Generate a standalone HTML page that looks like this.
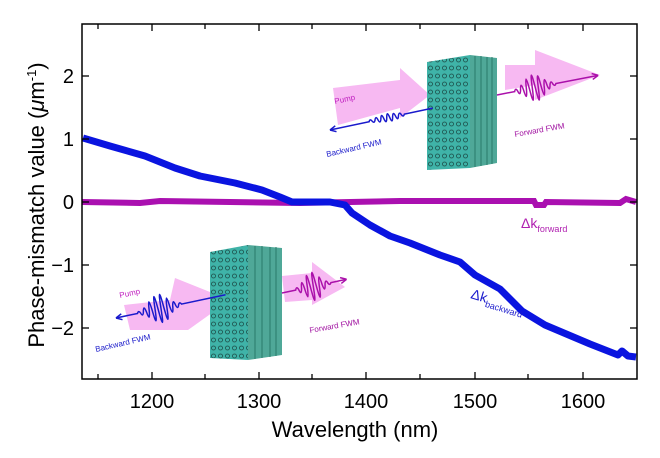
<!DOCTYPE html>
<html><head><style>
body{margin:0;background:#fff;}
svg{display:block;font-family:"Liberation Sans",sans-serif;}
</style></head><body>
<svg width="660" height="458" viewBox="0 0 660 458">
<defs>
<pattern id="grid" width="7" height="8" patternUnits="userSpaceOnUse">
<rect width="7" height="8" fill="#3fb3a8"/><circle cx="3.5" cy="4" r="2" fill="none" stroke="#1d4d48" stroke-width="0.8"/>
</pattern>
</defs>
<g>
<polygon points="333,88 400,80 400,68 430,95 400,118 400,108 338,125" fill="#f7b9f2"/>
<polygon points="505,65 535,65 535,50 600,75 535,100 535,85 505,90" fill="#f7b9f2"/>
<polygon points="427,62 470,55 470,168 427,170" fill="url(#grid)"/>
<polygon points="470,55 497,58 497,163 470,168" fill="#4fa898"/>
<g stroke="#2a7a6a" stroke-width="1"><line x1="475" y1="56" x2="475" y2="167"/><line x1="481" y1="56" x2="481" y2="166"/><line x1="487" y1="57" x2="487" y2="165"/><line x1="492" y1="57" x2="492" y2="164"/></g>
<g transform="translate(330 130) rotate(-12)" fill="none" stroke-width="1.5">
<path d="M0,0 L40,0 q1.5,-3 3,0 q1.5,3 3,0 q1.5,-5 3,0 q1.5,5 3,0 q1.5,-7 3,0 q1.5,7 3,0 q1.5,-8 3,0 q1.5,8 3,0 q1.5,-6 3,0 q1.5,6 3,0 q1.5,-4 3,0 q1.5,3 3,0 L105,0" stroke="#1a1acc"/>
<path d="M0,0 L6,-3 M0,0 L6,3" stroke="#1a1acc"/>
</g>
<g transform="translate(497 95) rotate(-11)" fill="none" stroke-width="1.5" stroke="#aa10aa">
<path d="M0,0 L18,0 q1.5,-4 3,0 q1.5,6 3,0 q1.5,-10 3,0 q1.5,14 3,0 q1.5,-20 3,0 q1.5,24 3,0 q1.5,-26 3,0 q1.5,26 3,0 q1.5,-22 3,0 q1.5,18 3,0 q1.5,-12 3,0 q1.5,8 3,0 q1.5,-5 3,0 q1.5,3 3,0 L103,0"/>
<path d="M103,0 L97,-3 M103,0 L97,3"/>
</g>
<text x="335" y="104" font-size="8" fill="#c020c0" transform="rotate(-12 335 104)">Pump</text>
<text x="327" y="157" font-size="8" fill="#2020cc" transform="rotate(-13 327 157)">Backward FWM</text>
<text x="515" y="137" font-size="8" fill="#a010a0" transform="rotate(-10 515 137)">Forward FWM</text>

<polygon points="124,305 170,300 175,278 230,300 188,330 175,330 130,330" fill="#f7b9f2"/>
<polygon points="282,276 312,273 312,262 345,287 312,305 312,300 285,302" fill="#f7b9f2"/>
<polygon points="210,252 248,245 248,360 210,358" fill="url(#grid)"/>
<polygon points="248,245 282,248 282,355 248,360" fill="#4fa898"/>
<g stroke="#2a7a6a" stroke-width="1"><line x1="255" y1="246" x2="255" y2="359"/><line x1="262" y1="246" x2="262" y2="358"/><line x1="270" y1="247" x2="270" y2="357"/><line x1="276" y1="247" x2="276" y2="356"/></g>
<g transform="translate(116 318) rotate(-12)" fill="none" stroke-width="1.5" stroke="#1a1acc">
<path d="M0,0 L22,0 q1.5,-3 3,0 q1.5,5 3,0 q1.5,-8 3,0 q1.5,12 3,0 q1.5,-18 3,0 q1.5,22 3,0 q1.5,-26 3,0 q1.5,28 3,0 q1.5,-28 3,0 q1.5,24 3,0 q1.5,-18 3,0 q1.5,12 3,0 q1.5,-8 3,0 q1.5,5 3,0 q1.5,-3 3,0 L112,0"/>
<path d="M0,0 L6,-3 M0,0 L6,3"/>
</g>
<g transform="translate(282 293) rotate(-12)" fill="none" stroke-width="1.5" stroke="#aa10aa">
<path d="M0,0 L14,0 q1.5,-4 3,0 q1.5,7 3,0 q1.5,-12 3,0 q1.5,18 3,0 q1.5,-24 3,0 q1.5,28 3,0 q1.5,-28 3,0 q1.5,24 3,0 q1.5,-16 3,0 q1.5,10 3,0 q1.5,-5 3,0 q1.5,3 3,0 L66,0"/>
<path d="M66,0 L60,-3 M66,0 L60,3"/>
</g>
<text x="120" y="298" font-size="8" fill="#c020c0" transform="rotate(-12 120 298)">Pump</text>
<text x="96" y="352" font-size="8" fill="#2020cc" transform="rotate(-13 96 352)">Backward FWM</text>
<text x="310" y="333" font-size="8" fill="#a010a0" transform="rotate(-10 310 333)">Forward FWM</text>
</g>
<path d="M82,202 L140,203 L160,201 L230,202 L300,203 L400,201 L534,201 L536,205 L544,205 L546,202 L620,203 L626,199 L636,202" stroke="#aa10b0" stroke-width="6" fill="none"/>
<path d="M83,138 L110,146 L145,156 L175,168 L200,176 L235,183 L262,190 L280,197 L292,202 L330,202 L345,205 L352,213 L370,225 L390,236 L410,243 L440,255 L460,262 L475,275 L500,289 L522,311 L545,325 L590,344 L618,355 L622,351 L628,356 L636,357" stroke="#0a14e0" stroke-width="7" fill="none" stroke-linejoin="round"/>
<text x="521" y="228" font-size="14" fill="#b020b0">Δk<tspan font-size="9" dy="4">forward</tspan></text>
<text x="470" y="298" font-size="14" fill="#1a1acc" transform="rotate(17 470 298)">Δk<tspan font-size="9" dy="4">backward</tspan></text>
<rect x="82" y="24" width="555" height="355" fill="none" stroke="#000" stroke-width="1.5"/>
<g stroke="#000" stroke-width="1.3">
<line x1="82" y1="76" x2="89" y2="76"/><line x1="82" y1="139" x2="89" y2="139"/><line x1="82" y1="202" x2="89" y2="202"/><line x1="82" y1="265" x2="89" y2="265"/><line x1="82" y1="328" x2="89" y2="328"/>
<line x1="637" y1="76" x2="630" y2="76"/><line x1="637" y1="139" x2="630" y2="139"/><line x1="637" y1="202" x2="630" y2="202"/><line x1="637" y1="265" x2="630" y2="265"/><line x1="637" y1="328" x2="630" y2="328"/>
<line x1="98" y1="379" x2="98" y2="374"/><line x1="152" y1="379" x2="152" y2="372"/><line x1="205" y1="379" x2="205" y2="374"/><line x1="259" y1="379" x2="259" y2="372"/><line x1="312" y1="379" x2="312" y2="374"/><line x1="366" y1="379" x2="366" y2="372"/><line x1="420" y1="379" x2="420" y2="374"/><line x1="475" y1="379" x2="475" y2="372"/><line x1="528" y1="379" x2="528" y2="374"/><line x1="583" y1="379" x2="583" y2="372"/>
<line x1="98" y1="24" x2="98" y2="29"/><line x1="152" y1="24" x2="152" y2="31"/><line x1="205" y1="24" x2="205" y2="29"/><line x1="259" y1="24" x2="259" y2="31"/><line x1="312" y1="24" x2="312" y2="29"/><line x1="366" y1="24" x2="366" y2="31"/><line x1="420" y1="24" x2="420" y2="29"/><line x1="475" y1="24" x2="475" y2="31"/><line x1="528" y1="24" x2="528" y2="29"/><line x1="583" y1="24" x2="583" y2="31"/>
</g>
<g font-size="20" fill="#000" text-anchor="end">
<text x="74" y="83">2</text><text x="74" y="146">1</text><text x="74" y="209">0</text><text x="74" y="272">−1</text><text x="74" y="335">−2</text>
</g>
<g font-size="20" fill="#000" text-anchor="middle">
<text x="152" y="408">1200</text><text x="259" y="408">1300</text><text x="366" y="408">1400</text><text x="475" y="408">1500</text><text x="583" y="408">1600</text>
</g>
<text x="355" y="437" font-size="22" text-anchor="middle">Wavelength (nm)</text>
<text transform="translate(44 205) rotate(-90)" font-size="22" text-anchor="middle">Phase-mismatch value (<tspan font-style="italic">μ</tspan>m<tspan font-size="13" dy="-8">-1</tspan><tspan dy="8">)</tspan></text>
</svg>
</body></html>
